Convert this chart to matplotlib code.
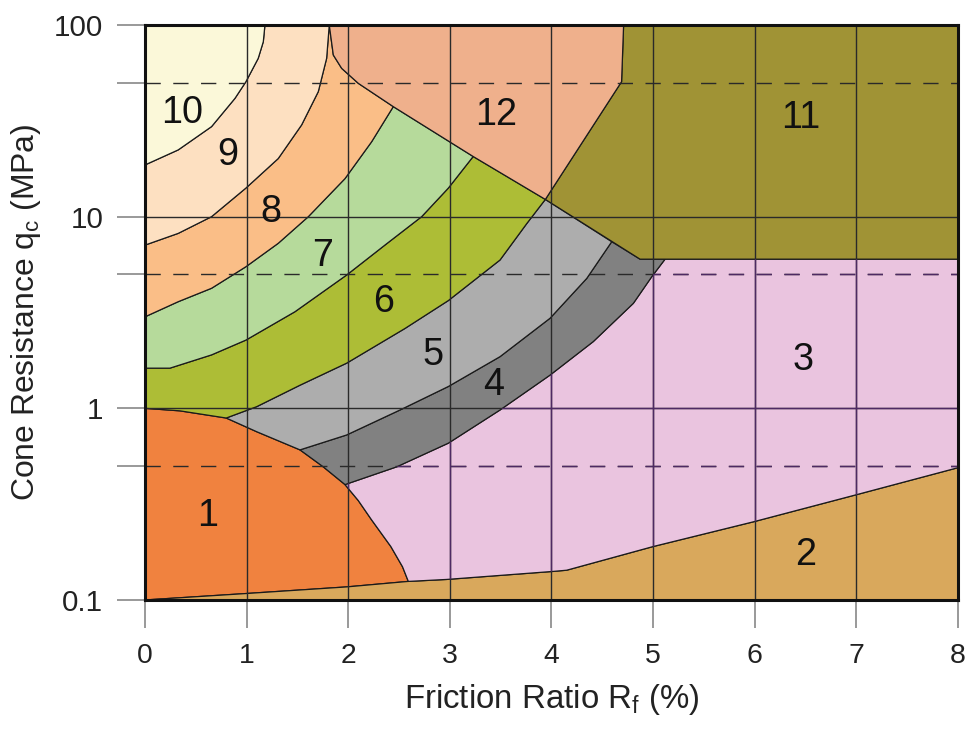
import matplotlib
matplotlib.use("Agg")
import matplotlib.pyplot as plt
from matplotlib import font_manager
from matplotlib.ticker import FixedLocator, NullFormatter

# boundary curves: friction ratio (%) and cone resistance (MPa)
b10_x = [0.0, 0.328, 0.656, 0.886, 0.994, 1.115, 1.165, 1.181]
b10_q = [18.6, 22.3, 29.5, 41.4, 50.6, 67.0, 81.8, 100.0]

b98_x = [0.0, 0.328, 0.656, 0.994, 1.312, 1.542, 1.706, 1.788, 1.814]
b98_q = [7.1, 8.18, 10.0, 14.1, 20.1, 30.1, 44.9, 67.0, 100.0]

b12_x = [1.814, 1.854, 1.936, 2.10, 2.444, 3.23, 3.94]
b12_q = [100.0, 69.7, 59.4, 49.6, 37.5, 20.6, 12.3]

b87_x = [0.0, 0.328, 0.656, 0.994, 1.312, 1.608, 1.969, 2.231, 2.444]
b87_q = [3.0, 3.6, 4.23, 5.48, 7.26, 10.0, 15.8, 24.6, 37.5]

b76_x = [0.0, 0.246, 0.656, 0.994, 1.476, 1.985, 2.362, 2.723, 2.986, 3.23]
b76_q = [1.62, 1.62, 1.90, 2.27, 3.19, 4.96, 7.11, 10.0, 14.1, 20.6]

b65_x = [0.80, 1.10, 1.526, 1.985, 2.559, 2.986, 3.494, 3.757, 3.94]
b65_q = [0.89, 1.02, 1.32, 1.72, 2.61, 3.65, 5.94, 9.2, 12.3]

b1_x = [0.0, 0.345, 0.80, 1.10, 1.526, 1.755, 1.969, 2.10, 2.23, 2.42, 2.535, 2.592]
b1_q = [1.0, 0.97, 0.89, 0.755, 0.607, 0.495, 0.40, 0.33, 0.262, 0.19, 0.149, 0.125]

b1bot_x = [0.0, 0.99, 1.985, 2.592]
b1bot_q = [0.1, 0.108, 0.117, 0.125]

b54_x = [1.526, 1.985, 2.51, 2.986, 3.494, 3.986, 4.347, 4.593]
b54_q = [0.607, 0.726, 0.98, 1.30, 1.86, 2.95, 4.76, 7.4]

b43_x = [1.969, 2.477, 2.986, 3.494, 3.986, 4.412, 4.806, 4.987, 5.118]
b43_q = [0.40, 0.495, 0.658, 0.98, 1.49, 2.23, 3.53, 4.86, 6.0]

b2_x = [2.592, 2.97, 4.02, 4.15, 5.0, 5.99, 6.99, 8.0]
b2_q = [0.125, 0.128, 0.141, 0.143, 0.19, 0.256, 0.353, 0.49]

b11_x = [3.94, 4.69, 4.71]
b11_q = [12.3, 50.6, 100.0]
b11_low_x = [8.0, 4.872]
b11_low_q = [6.0, 6.0]

zone_ids = ["1", "2", "3", "4", "5", "6", "7", "8", "9", "10", "11", "12"]
zone_colors = ["#f0823f", "#d9a85c", "#eac4df", "#818181", "#adadad", "#adbd36",
               "#b6da9b", "#fabe87", "#fde0c1", "#fbf8d9", "#a09335", "#efb08c"]
label_x = [0.62, 6.5, 6.48, 3.43, 2.83, 2.35, 1.75, 1.24, 0.82, 0.37, 6.45, 3.46]
label_q = [0.274, 0.172, 1.79, 1.32, 1.9, 3.6, 6.2, 10.6, 21.0, 34.8, 32.7, 33.9]

xticks = [0, 1, 2, 3, 4, 5, 6, 7, 8]
yticks = [0.1, 1, 10, 100]
yticks_minor = [0.5, 5, 50]
ytick_labels = ["0.1", "1", "10", "100"]


def pts(xs, qs, rev=False):
    p = list(zip(xs, qs))
    return p[::-1] if rev else p


names = {f.name for f in font_manager.fontManager.ttflist}
narrow = "Liberation Sans Narrow" in names
fam = "Liberation Sans Narrow" if narrow else "Liberation Sans"
k = 1.0 if narrow else 0.85
plt.rcParams["font.family"] = [fam, "DejaVu Sans"]
plt.rcParams["mathtext.fontset"] = "custom"
plt.rcParams["mathtext.rm"] = fam

b12 = pts(b12_x, b12_q)
b1 = pts(b1_x, b1_q)

polys = {
    "10": [(0, 100)] + pts(b10_x, b10_q),
    "9": pts(b10_x, b10_q) + pts(b98_x, b98_q, True),
    "8": pts(b98_x, b98_q) + b12[1:5] + pts(b87_x, b87_q, True),
    "7": pts(b87_x, b87_q) + [b12[5]] + pts(b76_x, b76_q, True),
    "6": pts(b76_x, b76_q) + [b12[6]] + pts(b65_x, b65_q, True) + b1[0:2][::-1],
    "5": pts(b65_x, b65_q) + pts(b54_x, b54_q, True) + [b1[3]],
    "4": pts(b54_x, b54_q) + [(b11_low_x[1], b11_low_q[1])] + pts(b43_x, b43_q, True) + [b1[5]],
    "3": pts(b43_x, b43_q) + [(8, 6.0)] + pts(b2_x, b2_q, True) + b1[7:11][::-1],
    "2": [(0, 0.1), (8, 0.1)] + pts(b2_x, b2_q, True) + pts(b1bot_x, b1bot_q, True),
    "1": b1 + pts(b1bot_x, b1bot_q, True),
    "12": b12 + pts(b11_x, b11_q)[1:],
    "11": pts(b11_x, b11_q) + [(8, 100)] + pts(b11_low_x, b11_low_q),
}

fig = plt.figure(figsize=(9.66, 7.35), dpi=100)
ax = fig.add_axes([0.150, 0.1837, 0.8417, 0.7823])
ax.set_yscale("log")
ax.set_xlim(0, 8)
ax.set_ylim(0.1, 100)

patches = {}
for zid, col in zip(zone_ids, zone_colors):
    xs, qs = zip(*polys[zid])
    patches[zid] = ax.fill(xs, qs, facecolor=col, edgecolor="#1a1a1a", linewidth=0.9,
                           joinstyle="round", zorder=1)[0]

# grid; over the pink zone the lines take a purple tint as in the original
for clip, gcol in [(None, "#2a2a2a"), (patches["3"], "#4e2a63")]:
    lines = []
    for x in xticks[1:-1]:
        lines.append(ax.axvline(x, color=gcol, lw=1.0, zorder=2))
    for q in [1, 10]:
        lines.append(ax.axhline(q, color=gcol, lw=1.0, zorder=2))
    for q in yticks_minor:
        lines.append(ax.axhline(q, color=gcol, lw=1.0, ls=(0, (11, 9)), zorder=2))
    if clip is not None:
        for ln in lines:
            ln.set_clip_path(clip)

for zid, lx, lq in zip(zone_ids, label_x, label_q):
    ax.text(lx, lq, zid, fontsize=32 * k, ha="center", va="center",
            color="#111111", zorder=3)

ax.set_xticks(xticks)
ax.set_xticklabels([str(v) for v in xticks])
ax.yaxis.set_major_locator(FixedLocator(yticks))
ax.yaxis.set_minor_locator(FixedLocator(yticks_minor))
ax.yaxis.set_minor_formatter(NullFormatter())
ax.set_yticklabels(ytick_labels)

ax.tick_params(axis="x", which="major", length=20, width=1.2, color="#888888",
               labelsize=24 * k, pad=11, labelcolor="#222222")
ax.tick_params(axis="y", which="both", length=20, width=1.2, color="#888888",
               labelsize=25 * k, pad=10, labelcolor="#222222")

for s in ax.spines.values():
    s.set_linewidth(2.2)
    s.set_color("#111111")
    s.set_zorder(4)

ax.set_xlabel(r"Friction Ratio R$_\mathregular{f}$ (%)", fontsize=28 * k,
              color="#222222", labelpad=9)
ax.set_ylabel(r"Cone Resistance q$_\mathregular{c}$ (MPa)", fontsize=27 * k,
              color="#222222", labelpad=8)

fig.savefig("out.png", dpi=100)
